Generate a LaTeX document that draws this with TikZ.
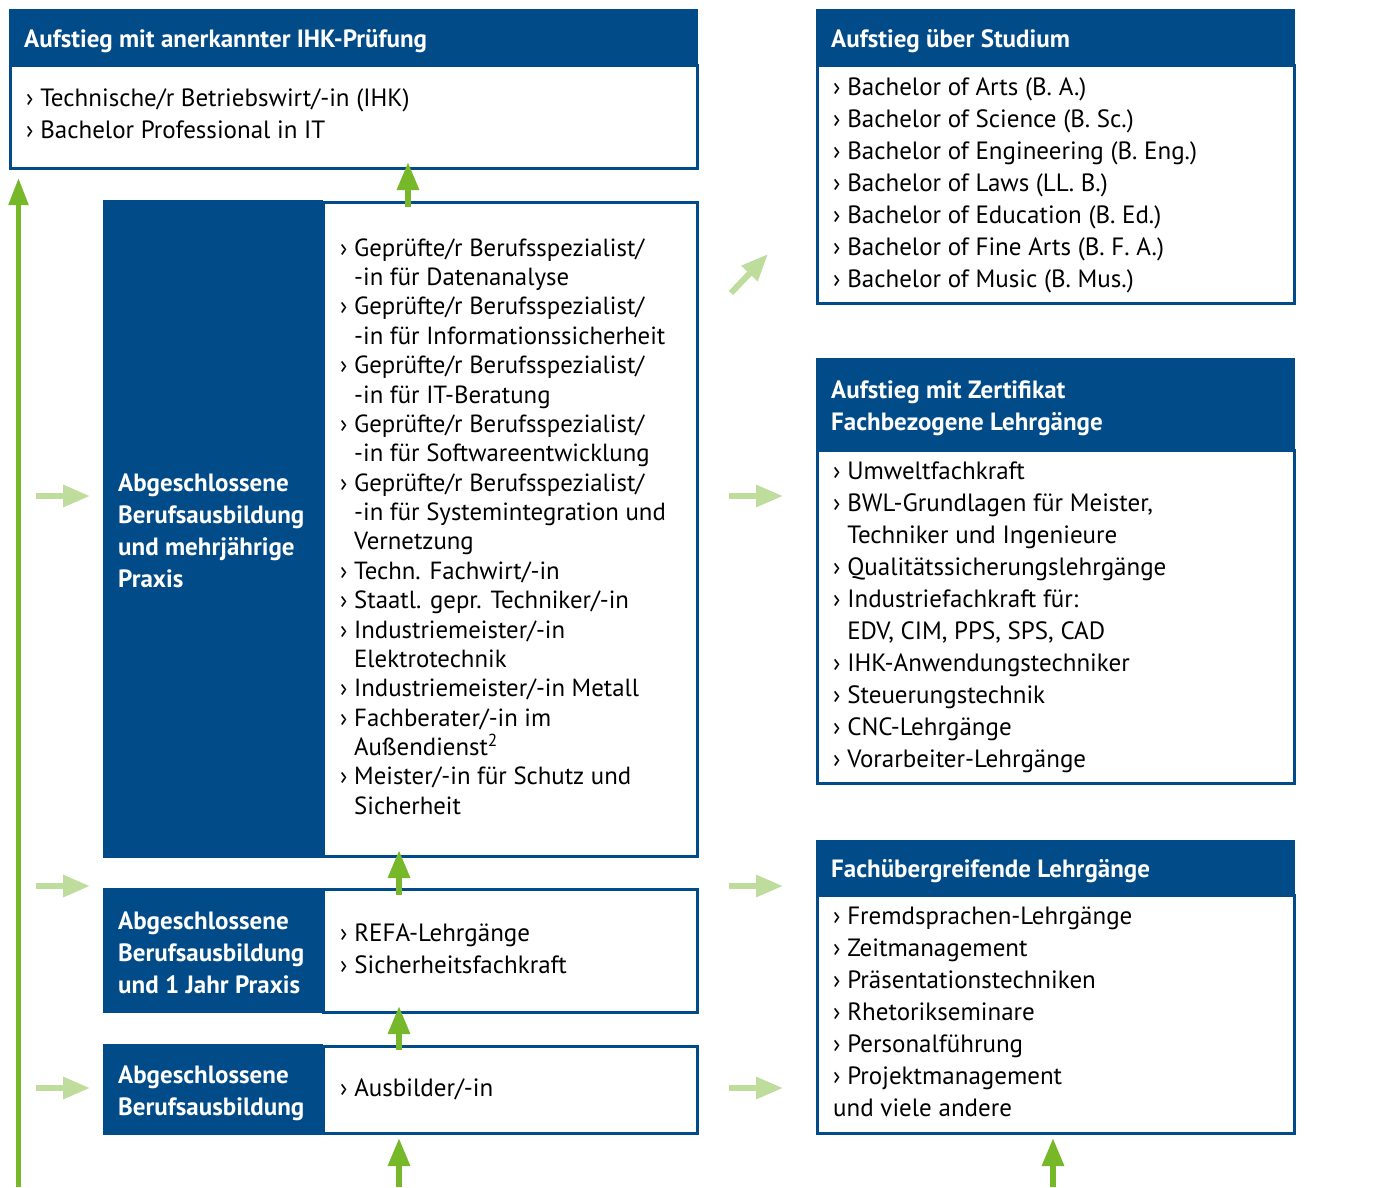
\documentclass[tikz,border=0pt]{standalone}
\usepackage{fontspec}
\setmainfont{PT Sans}
\usetikzlibrary{arrows.meta}

\definecolor{ihkblue}{HTML}{004B88}
\definecolor{upgreen}{HTML}{76B82A}
\definecolor{sidegreen}{HTML}{BEDC9C}

% list bullet and the matching hanging indent
\newcommand\bul{›\ }
\newcommand\ind{\phantom{›\ }}
% fixes the height of the first line, so a node's top sits 24pt above its first baseline
\newcommand\firstline{\rule{0pt}{24pt}}

\tikzset{
  headbox/.style={fill=ihkblue, draw=ihkblue, line width=1pt, anchor=north west, inner sep=0pt},
  listbox/.style={fill=white, draw=ihkblue, line width=2.5pt, anchor=north west, inner sep=0pt},
  headtext/.style={anchor=north west, inner sep=0pt, text=white, align=left,
    font=\fontsize{25}{32}\selectfont\bfseries},
  listtext/.style={anchor=north west, inner sep=0pt, text=black, align=left,
    font=\fontsize{25}{32}\selectfont},
  densetext/.style={listtext, font=\fontsize{24.8}{29.37}\selectfont},
  uparrow/.style={draw=upgreen, line width=6pt, -{Triangle[width=21pt,length=28pt]}, upgreen},
  sidearrow/.style={draw=sidegreen, line width=6pt, -{Triangle[width=21pt,length=27pt]}, sidegreen},
}

\begin{document}
\begin{tikzpicture}[x=1pt,y=-1pt]
\useasboundingbox[fill=white] (0,0) rectangle (1386,1187);

% ---------- left column ----------
% IHK examination
\node[listbox, minimum width=687pt, minimum height=103pt] (ihkbody) at (9,64) {};
\node[headbox, minimum width=688pt, minimum height=56pt] (ihkhead) at (9,9) {};
\node[headtext] (ihktitle) at (24,23) {\firstline Aufstieg mit anerkannter IHK-Prüfung};
\node[listtext] (ihklist) at (26,82) {\firstline\bul Technische/r Betriebswirt/-in (IHK)\\
  \bul Bachelor Professional in IT};

% several years of practice
\node[listbox, minimum width=374pt, minimum height=654pt] (praxbody) at (322,201) {};
\node[headbox, minimum width=219pt, minimum height=657pt] (praxhead) at (103,200) {};
\node[headtext] (praxtitle) at (118,467) {\firstline Abgeschlossene\\Berufsausbildung\\und mehrjährige\\Praxis};
\node[densetext] (praxlist) at (340,232) {\firstline
  \bul Geprüfte/r Berufsspezialist/\\
  \ind -in für Datenanalyse\\
  \bul Geprüfte/r Berufsspezialist/\\
  \ind -in für Informationssicherheit\\
  \bul Geprüfte/r Berufsspezialist/\\
  \ind -in für IT-Beratung\\
  \bul Geprüfte/r Berufsspezialist/\\
  \ind -in für Softwareentwicklung\\
  \bul Geprüfte/r Berufsspezialist/\\
  \ind -in für Systemintegration und\\
  \ind Vernetzung\\
  \bul Techn. Fachwirt/-in\\
  \bul Staatl. gepr. Techniker/-in\\
  \bul Industriemeister/-in\\
  \ind Elektrotechnik\\
  \bul Industriemeister/-in Metall\\
  \bul Fachberater/-in im\\
  \ind Außendienst\textsuperscript{2}\\
  \bul Meister/-in für Schutz und\\
  \ind Sicherheit};

% one year of practice
\node[listbox, minimum width=374pt, minimum height=123pt] (jahrbody) at (322,888) {};
\node[headbox, minimum width=219pt, minimum height=124pt] (jahrhead) at (103,888) {};
\node[headtext] (jahrtitle) at (118,905) {\firstline Abgeschlossene\\Berufsausbildung\\und 1 Jahr Praxis};
\node[listtext] (jahrlist) at (340,917) {\firstline\bul REFA-Lehrgänge\\
  \bul Sicherheitsfachkraft};

% completed training
\node[listbox, minimum width=374pt, minimum height=87pt] (ausbody) at (322,1045) {};
\node[headbox, minimum width=219pt, minimum height=90pt] (aushead) at (103,1044) {};
\node[headtext] (austitle) at (118,1059) {\firstline Abgeschlossene\\Berufsausbildung};
\node[listtext] (auslist) at (340,1072) {\firstline\bul Ausbilder/-in};

% ---------- right column ----------
% university studies
\node[listbox, minimum width=477pt, minimum height=238pt] (studbody) at (816,64) {};
\node[headbox, minimum width=478pt, minimum height=56pt] (studhead) at (816,9) {};
\node[headtext] (studtitle) at (831,23) {\firstline Aufstieg über Studium};
\node[listtext] (studlist) at (833,71) {\firstline
  \bul Bachelor of Arts (B. A.)\\
  \bul Bachelor of Science (B. Sc.)\\
  \bul Bachelor of Engineering (B. Eng.)\\
  \bul Bachelor of Laws (LL. B.)\\
  \bul Bachelor of Education (B. Ed.)\\
  \bul Bachelor of Fine Arts (B. F. A.)\\
  \bul Bachelor of Music (B. Mus.)};

% certificate courses
\node[listbox, minimum width=477pt, minimum height=333pt] (zertbody) at (816,449) {};
\node[headbox, minimum width=478pt, minimum height=92pt] (zerthead) at (816,358) {};
\node[headtext] (zerttitle) at (831,374) {\firstline Aufstieg mit Zertifikat\\Fachbezogene Lehrgänge};
\node[listtext] (zertlist) at (833,455) {\firstline
  \bul Umweltfachkraft\\
  \bul BWL-Grundlagen für Meister,\\
  \ind Techniker und Ingenieure\\
  \bul Qualitätssicherungslehrgänge\\
  \bul Industriefachkraft für:\\
  \ind EDV, CIM, PPS, SPS, CAD\\
  \bul IHK-Anwendungstechniker\\
  \bul Steuerungstechnik\\
  \bul CNC-Lehrgänge\\
  \bul Vorarbeiter-Lehrgänge};

% interdisciplinary courses
\node[listbox, minimum width=477pt, minimum height=238pt] (fachbody) at (816,894) {};
\node[headbox, minimum width=478pt, minimum height=56pt] (fachhead) at (816,840) {};
\node[headtext] (fachtitle) at (831,853) {\firstline Fachübergreifende Lehrgänge};
\node[listtext] (fachlist) at (833,900) {\firstline
  \bul Fremdsprachen-Lehrgänge\\
  \bul Zeitmanagement\\
  \bul Präsentationstechniken\\
  \bul Rhetorikseminare\\
  \bul Personalführung\\
  \bul Projektmanagement\\
  und viele andere};

% ---------- arrows ----------
% long path on the far left
\coordinate (longfrom) at (18.5,1187);
\coordinate (longto) at (18.5,178);
\draw[draw=upgreen, line width=5pt, -{Triangle[width=19pt,length=27pt]}, upgreen] (longfrom) -- (longto);

% upward steps between the boxes
\coordinate (s1from) at (408,207);  \coordinate (s1to) at (408,162);
\coordinate (s2from) at (399,895);  \coordinate (s2to) at (399,850);
\coordinate (s3from) at (399,1050); \coordinate (s3to) at (399,1006);
\coordinate (s4from) at (399,1187); \coordinate (s4to) at (399,1138);
\coordinate (s5from) at (1053,1187); \coordinate (s5to) at (1053,1138);
\foreach \k in {1,...,5} \draw[uparrow] (s\k from) -- (s\k to);

% entry arrows on the left and side arrows towards the right column
\foreach \y/\n in {496/a,886/b,1088/c}{
  \coordinate (in\n from) at (36,\y);  \coordinate (in\n to) at (90,\y);
  \coordinate (out\n from) at (729,\y); \coordinate (out\n to) at (783,\y);
  \draw[sidearrow] (in\n from) -- (in\n to);
  \draw[sidearrow] (out\n from) -- (out\n to);
}
\coordinate (diagfrom) at (731,293);
\coordinate (diagto) at (768,254);
\draw[sidearrow] (diagfrom) -- (diagto);
\end{tikzpicture}
\end{document}
